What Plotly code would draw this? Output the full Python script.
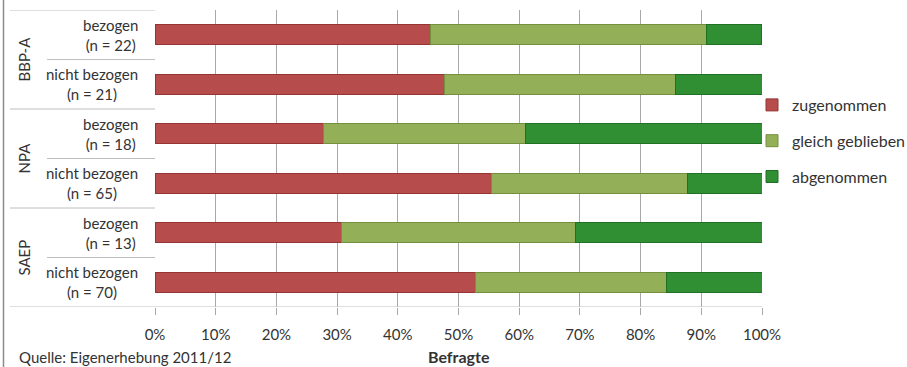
import plotly.graph_objects as go

groups = ["BBP-A", "BBP-A", "NPA", "NPA", "SAEP", "SAEP"]
row_labels = ["bezogen", "nicht bezogen", "bezogen", "nicht bezogen", "bezogen", "nicht bezogen"]
n_values = [22, 21, 18, 65, 13, 70]
zugenommen = [45.45, 47.62, 27.78, 55.38, 30.77, 52.86]
gleich_geblieben = [45.45, 38.10, 33.33, 32.31, 38.46, 31.43]
abgenommen = [9.09, 14.29, 38.89, 12.31, 30.77, 15.71]
series_names = ["zugenommen", "gleich geblieben", "abgenommen"]
x_ticks = [0, 10, 20, 30, 40, 50, 60, 70, 80, 90, 100]
x_ticklabels = [f"{v}%" for v in x_ticks]

FONT = "Lato"
TXT = "#333333"
GRID = "#A8A8A8"
DIV = "#BEBEBE"
fills = ["rgb(183,76,76)", "rgb(147,176,88)", "rgb(48,142,51)"]
edges = ["rgb(150,52,52)", "rgb(116,144,62)", "rgb(32,112,37)"]

ypos = list(range(len(row_labels)))

fig = go.Figure()
for i, (name, vals) in enumerate(zip(series_names, [zugenommen, gleich_geblieben, abgenommen])):
    fig.add_trace(go.Bar(
        x=vals, y=ypos, orientation="h", name=name,
        marker=dict(color=fills[i], line=dict(color=edges[i], width=1)),
        width=0.4, legendgroup=name, hoverinfo="x+name",
    ))

W, H = 907, 367
L, R, T, B = 155, 145, 10, 60
pw, ph = W - L - R, H - T - B

def px_x(px):
    return (px - L) / pw

shapes = []
# left chart border
shapes.append(dict(type="line", xref="paper", yref="paper", x0=px_x(3.5), x1=px_x(3.5), y0=-B/ph, y1=1 + T/ph,
                   line=dict(color="#8C8C8C", width=1.5)))
# category dividers
bounds = [i - 0.5 for i in range(len(row_labels) + 1)]
for k, b in enumerate(bounds):
    is_group = (k == 0) or (k == len(row_labels)) or groups[k - 1] != groups[k]
    x0 = px_x(10) if is_group else px_x(47)
    x1 = 1.0 if k == len(row_labels) else 0.0
    shapes.append(dict(type="line", xref="paper", yref="y", x0=x0, x1=x1, y0=b, y1=b,
                       line=dict(color=DIV, width=1)))

annotations = []
for y, lab, n in zip(ypos, row_labels, n_values):
    annotations.append(dict(xref="paper", yref="y", x=px_x(140), y=y, xanchor="right", yanchor="middle",
                            text=f"{lab}<br>(n = {n})", showarrow=False, align="center",
                            font=dict(family=FONT, size=15, color=TXT)))
seen = []
for g in groups:
    if g in seen:
        continue
    seen.append(g)
    idx = [i for i, gg in enumerate(groups) if gg == g]
    yc = sum(idx) / len(idx)
    annotations.append(dict(xref="paper", yref="y", x=px_x(23), y=yc, xanchor="center", yanchor="middle",
                            text=g, textangle=-90, showarrow=False,
                            font=dict(family=FONT, size=15, color=TXT)))
annotations.append(dict(xref="paper", yref="paper", x=0.5, y=-(357 - 307) / ph, xanchor="center", yanchor="middle",
                        text="<b>Befragte</b>", showarrow=False, font=dict(family=FONT, size=16, color=TXT)))
annotations.append(dict(xref="paper", yref="paper", x=px_x(17), y=-(357 - 307) / ph, xanchor="left", yanchor="middle",
                        text="Quelle: Eigenerhebung 2011/12", showarrow=False, font=dict(family=FONT, size=15, color=TXT)))

fig.update_layout(
    barmode="stack",
    width=W, height=H,
    margin=dict(l=L, r=R, t=T, b=B, pad=0, autoexpand=False),
    paper_bgcolor="white", plot_bgcolor="white",
    font=dict(family=FONT, size=15, color=TXT),
    showlegend=True,
    legend=dict(x=px_x(752), y=1 - (88 - T) / ph, xanchor="left", yanchor="top",
                tracegroupgap=12, font=dict(family=FONT, size=16, color=TXT),
                itemwidth=30, bgcolor="rgba(0,0,0,0)"),
    xaxis=dict(range=[0, 100], tickmode="array", tickvals=x_ticks, ticktext=x_ticklabels,
               showgrid=True, gridcolor=GRID, gridwidth=1,
               ticks="outside", ticklen=7, tickcolor=GRID, tickwidth=1,
               showline=False, zeroline=False, tickfont=dict(family=FONT, size=15, color=TXT),
               ticklabelstandoff=7, fixedrange=True),
    yaxis=dict(range=[len(row_labels) - 0.5, -0.5], showticklabels=False, showgrid=False,
               zeroline=False, showline=False, ticks="", fixedrange=True),
    shapes=shapes,
    annotations=annotations,
    bargap=0.6,
)
fig.write_html("out.html")
